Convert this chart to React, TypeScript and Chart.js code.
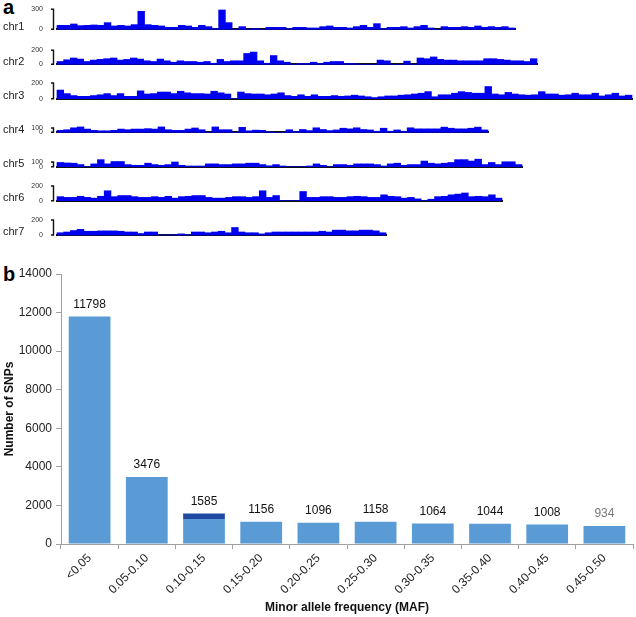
import React, { useEffect, useRef } from 'react';
import { Chart, registerables } from 'chart.js';

Chart.register(...registerables);

const FONT = '"Liberation Sans", Arial, Helvetica, sans-serif';

// ---------- Panel a: SNP counts per bin along each chromosome ----------
const CHR_NAMES = ['chr1', 'chr2', 'chr3', 'chr4', 'chr5', 'chr6', 'chr7'];
const CHR_SCALE_MAX = [300, 200, 200, 100, 100, 200, 200];

const CHR1_COUNTS = [60, 60, 80, 55, 60, 65, 60, 100, 50, 60, 50, 70, 270, 70, 60, 50, 30, 30, 60, 50, 30, 60, 40, 10, 290, 100, 0, 40, 5, 10, 0, 30, 30, 30, 10, 30, 30, 20, 20, 40, 50, 30, 30,
  20, 40, 60, 30, 85, 10, 30, 30, 40, 20, 40, 60, 20, 0, 40, 30, 30, 40, 30, 50, 30, 40, 30, 40, 20];
const CHR2_COUNTS = [40, 65, 90, 75, 40, 60, 70, 80, 90, 60, 70, 90, 75, 50, 40, 75, 50, 30, 50, 40, 40, 30, 40, 15, 70, 40, 50, 50, 155, 175, 50, 15, 125, 50, 30, 0, 10, 10, 30, 10, 30, 40, 40,
  10, 10, 0, 0, 0, 60, 50, 0, 0, 45, 0, 90, 80, 105, 70, 60, 60, 50, 50, 50, 50, 80, 80, 70, 60, 50, 50, 40, 80];
const CHR3_COUNTS = [110, 65, 40, 30, 30, 40, 50, 65, 40, 65, 30, 30, 100, 60, 65, 85, 85, 65, 95, 75, 65, 65, 60, 95, 75, 60, 0, 85, 65, 60, 60, 50, 60, 75, 40, 30, 50, 30, 50, 30, 30, 40, 30,
  35, 45, 35, 25, 15, 25, 35, 35, 45, 50, 60, 70, 90, 25, 50, 50, 70, 90, 80, 70, 70, 155, 60, 50, 80, 60, 50, 45, 50, 90, 60, 60, 45, 50, 70, 50, 50, 70, 35, 50, 70, 35, 45];
const CHR4_COUNTS = [45, 60, 105, 125, 75, 45, 35, 35, 45, 75, 60, 75, 75, 85, 75, 125, 60, 45, 45, 75, 100, 60, 0, 125, 60, 60, 0, 115, 35, 50, 45, 10, 0, 0, 60, 20,
  65, 40, 105, 65, 40, 55, 95, 80, 105, 65, 55, 25, 95, 25, 55, 25, 105, 80, 80, 80, 80, 120, 95, 80, 80, 95, 120, 55];
const CHR5_COUNTS = [90, 80, 75, 45, 0, 60, 150, 60, 110, 110, 45, 30, 30, 75, 45, 30, 45, 100, 30, 15, 15, 15, 60, 60, 45, 45, 60, 60, 75, 75, 45, 20, 45, 15, 0, 0, 0, 15, 60, 30, 0, 45, 45, 30, 60, 60, 60, 45, 15, 60,
  75, 30, 45, 45, 120, 75, 60, 75, 90, 150, 150, 120, 160, 45, 90, 45, 105, 105, 45];
const CHR6_COUNTS = [55, 45, 45, 60, 45, 35, 60, 135, 55, 70, 70, 55, 45, 45, 55, 45, 60, 35, 55, 60, 70, 70, 45, 35, 35, 45, 55, 55, 45, 55, 135, 45, 70, 0, 0, 0, 125, 45, 45, 55, 55, 45, 45, 55, 60, 55, 45, 45, 80, 60, 55,
  35, 45, 25, 0, 20, 55, 60, 80, 90, 105, 55, 60, 55, 80, 35];
const CHR7_COUNTS = [30, 40, 60, 75, 50, 50, 55, 55, 55, 50, 40, 40, 20, 40, 40, 0, 0, 5, 15, 5, 40, 40, 30, 40, 50, 30, 100, 40, 30, 30, 15, 30, 40, 40, 40, 40, 40, 40, 40, 50, 40, 65, 65, 55, 55, 65, 65, 55, 30];

const CHR_COUNTS = [CHR1_COUNTS, CHR2_COUNTS, CHR3_COUNTS, CHR4_COUNTS, CHR5_COUNTS, CHR6_COUNTS, CHR7_COUNTS];

// ---------- Panel b: MAF distribution ----------
const MAF_BINS = ['<0.05', '0.05-0.10', '0.10-0.15', '0.15-0.20', '0.20-0.25', '0.25-0.30', '0.30-0.35', '0.35-0.40', '0.40-0.45', '0.45-0.50'];
const MAF_COUNTS = [11798, 3476, 1585, 1156, 1096, 1158, 1064, 1044, 1008, 934];
const MAF_HIGHLIGHT = [0, 0, 295, 0, 0, 0, 0, 0, 0, 0];
const Y_MAX = 14000;
const Y_STEP = 2000;

// ---------- Layout (pixels) ----------
const TRACK_LAYOUT = [
  { baseline: 29.3, areaH: 20, end: 515 },
  { baseline: 64.3, areaH: 14, end: 537 },
  { baseline: 98.7, areaH: 15.7, end: 632 },
  { baseline: 132.3, areaH: 4.3, end: 488 },
  { baseline: 166.7, areaH: 4.7, end: 522 },
  { baseline: 200.7, areaH: 14.7, end: 502 },
  { baseline: 235, areaH: 15, end: 386 },
];
const TRACK_AXIS_W = 57;
const LABEL_GRAY = '#777';

const bracketPlugin = {
  id: 'bracket',
  afterDraw(chart: any) {
    const { ctx, chartArea } = chart;
    const y = chart.scales.y;
    const x = chartArea.left - 3.5;
    const yt = y.getPixelForValue(y.max);
    const yb = y.getPixelForValue(0);
    ctx.save();
    ctx.strokeStyle = '#111';
    ctx.lineWidth = 1.4;
    ctx.beginPath();
    ctx.moveTo(x - 2.5, yt);
    ctx.lineTo(x, yt);
    ctx.lineTo(x, yb);
    ctx.lineTo(x - 2.5, yb);
    ctx.stroke();
    // chromosome name
    ctx.fillStyle = '#222';
    ctx.font = `11px ${FONT}`;
    ctx.textAlign = 'left';
    ctx.textBaseline = 'alphabetic';
    ctx.fillText(chart.options.plugins.bracket.name, 3, chartArea.bottom + 0.3);
    ctx.restore();
  },
};

function Track({ i }: { i: number }) {
  const ref = useRef<HTMLCanvasElement | null>(null);
  const lay = TRACK_LAYOUT[i];
  const top = Math.floor(lay.baseline - lay.areaH) - 8;
  const H = Math.ceil(lay.baseline) + 8 - top;
  const padTop = lay.baseline - lay.areaH - top;
  const padBot = top + H - lay.baseline;
  const W = lay.end + 2;
  useEffect(() => {
    const max = CHR_SCALE_MAX[i];
    const values = CHR_COUNTS[i];
    const chart = new Chart(ref.current as HTMLCanvasElement, {
      type: 'bar',
      data: {
        labels: values.map((_, k) => String(k)),
        datasets: [{
          data: values,
          backgroundColor: '#0000f0',
          borderWidth: 0,
          barPercentage: 1,
          categoryPercentage: 1,
          clip: false as any,
        }],
      },
      options: {
        animation: false,
        responsive: false,
        maintainAspectRatio: false,
        events: [],
        layout: { padding: { top: padTop, bottom: padBot, left: 0, right: 2 } },
        plugins: {
          legend: { display: false },
          tooltip: { enabled: false },
          bracket: { name: CHR_NAMES[i] },
        } as any,
        scales: {
          x: {
            display: true,
            z: 1,
            grid: { display: false, drawTicks: false },
            ticks: { display: false },
            border: { display: true, color: '#111', width: 2 },
          },
          y: {
            min: 0,
            max,
            afterBuildTicks: (s: any) => { s.ticks = [{ value: 0 }, { value: max }]; },
            afterFit: (s: any) => { s.width = TRACK_AXIS_W; },
            grid: { display: false, drawTicks: true, tickLength: 14 },
            border: { display: false },
            ticks: { font: { size: 7, family: FONT }, color: '#333', padding: 0, autoSkip: false },
          },
        },
      } as any,
      plugins: [bracketPlugin],
    });
    return () => chart.destroy();
  }, []);
  return (
    <canvas
      ref={ref}
      width={W}
      height={H}
      style={{ position: 'absolute', left: 0, top, width: W, height: H }}
    />
  );
}

const valueLabelPlugin = {
  id: 'valueLabels',
  afterDatasetsDraw(chart: any) {
    const { ctx } = chart;
    const meta = chart.getDatasetMeta(0);
    const y = chart.scales.y;
    ctx.save();
    ctx.font = `12px ${FONT}`;
    ctx.textAlign = 'center';
    ctx.textBaseline = 'bottom';
    MAF_COUNTS.forEach((v, k) => {
      const bar = meta.data[k];
      ctx.fillStyle = k === MAF_COUNTS.length - 1 ? LABEL_GRAY : '#111';
      ctx.fillText(String(v), bar.x, y.getPixelForValue(v) - 6);
    });
    ctx.restore();
  },
};

function MafChart() {
  const ref = useRef<HTMLCanvasElement | null>(null);
  useEffect(() => {
    const base = MAF_COUNTS.map((v, k) => v - MAF_HIGHLIGHT[k]);
    const axisGray = '#a0a0a0';
    const chart = new Chart(ref.current as HTMLCanvasElement, {
      type: 'bar',
      data: {
        labels: MAF_BINS,
        datasets: [
          { data: base, backgroundColor: '#5b9bd5', borderWidth: 0, barPercentage: 0.73, categoryPercentage: 1, stack: 'maf' },
          { data: MAF_HIGHLIGHT, backgroundColor: '#1f49a0', borderWidth: 0, barPercentage: 0.73, categoryPercentage: 1, stack: 'maf' },
        ],
      },
      options: {
        animation: false,
        responsive: false,
        maintainAspectRatio: false,
        events: [],
        layout: { padding: { top: 19, left: 0, right: 3, bottom: 0 } },
        plugins: { legend: { display: false }, tooltip: { enabled: false } },
        scales: {
          x: {
            stacked: true,
            afterFit: (s: any) => { s.height = 73; },
            grid: { display: true, drawOnChartArea: false, drawTicks: true, tickLength: 5, color: axisGray, offset: true },
            border: { display: true, color: axisGray, width: 1 },
            ticks: { minRotation: 45, maxRotation: 45, autoSkip: false, font: { size: 12, family: FONT }, color: '#222', padding: 2 },
            title: { display: true, text: 'Minor allele frequency (MAF)', color: '#111', font: { size: 12, weight: 'bold', family: FONT }, padding: { top: 0, bottom: 2 } },
          },
          y: {
            stacked: true,
            min: 0,
            max: Y_MAX,
            afterFit: (s: any) => { s.width = 61; },
            grid: { display: true, drawOnChartArea: false, drawTicks: true, tickLength: 5, color: axisGray },
            border: { display: true, color: axisGray, width: 1 },
            ticks: { stepSize: Y_STEP, font: { size: 12, family: FONT }, color: '#222', padding: 4, callback: (v: any) => String(v) },
            title: { display: true, text: 'Number of SNPs', color: '#111', font: { size: 12, weight: 'bold', family: FONT }, padding: { top: 2, bottom: 0 } },
          },
        },
      } as any,
      plugins: [valueLabelPlugin],
    });
    return () => chart.destroy();
  }, []);
  return (
    <canvas
      ref={ref}
      width={636}
      height={362}
      style={{ position: 'absolute', left: 0, top: 255, width: 636, height: 362 }}
    />
  );
}

const panelLetter: React.CSSProperties = {
  position: 'absolute',
  left: 3,
  fontFamily: FONT,
  fontWeight: 'bold',
  fontSize: 20,
  lineHeight: '20px',
  color: '#000',
};

export default function App() {
  return (
    <div style={{ position: 'absolute', left: 0, top: 0, width: 636, height: 617, background: '#fff', overflow: 'hidden' }}>
      <div style={{ ...panelLetter, top: -3 }}>a</div>
      {CHR_NAMES.map((_, i) => <Track key={i} i={i} />)}
      <div style={{ ...panelLetter, top: 264 }}>b</div>
      <MafChart />
    </div>
  );
}
